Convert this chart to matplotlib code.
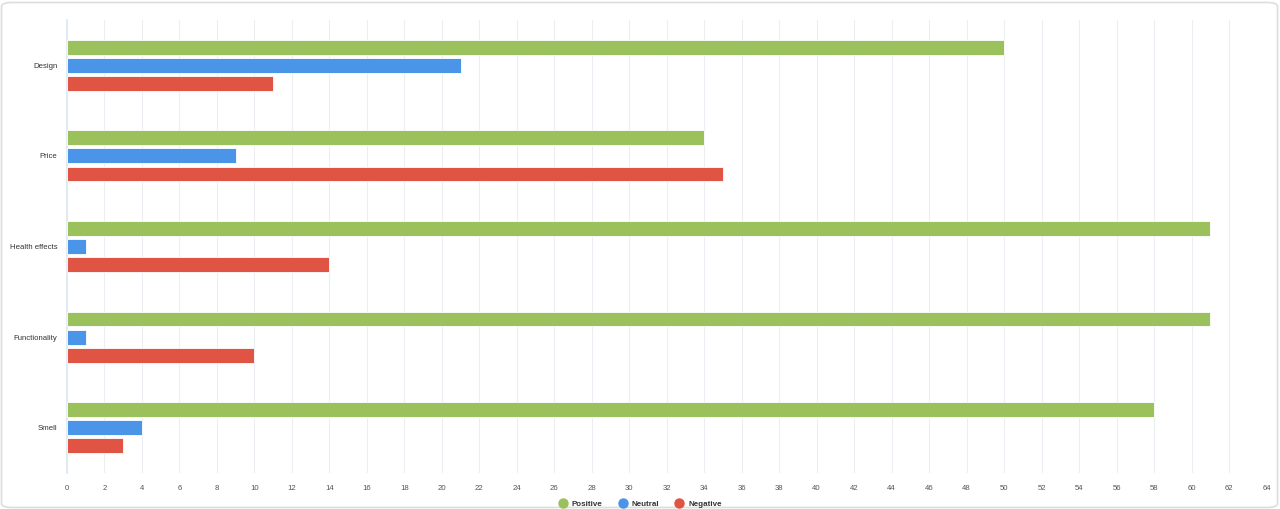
import numpy as np
import matplotlib
matplotlib.use("Agg")
import matplotlib.pyplot as plt
from matplotlib.patches import FancyBboxPatch
from matplotlib.lines import Line2D

categories = ["Design", "Price", "Health effects", "Functionality", "Smell"]
positive = [50, 34, 61, 61, 58]
neutral = [21, 9, 1, 1, 4]
negative = [11, 35, 14, 10, 3]

series = [("Positive", positive, "#9bc15d"),
          ("Neutral", neutral, "#4a95e8"),
          ("Negative", negative, "#e05443")]

plt.rcParams['font.family'] = ['Liberation Sans', 'DejaVu Sans']

fig = plt.figure(figsize=(12.8, 5.09), dpi=100)
ax = fig.add_axes([67 / 1280, 36 / 509, 1199.5 / 1280, 453 / 509])

y = np.arange(len(categories))
bar_h = 0.165
step = 0.2
for i, (name, vals, color) in enumerate(series):
    ax.barh(y + (i - 1) * step, vals, height=bar_h, color=color,
            edgecolor="white", linewidth=0.6, zorder=3)

ax.set_ylim(len(categories) - 0.5, -0.5)
ax.set_xlim(0, 64)
ax.set_xticks(np.arange(0, 65, 2))
ax.set_yticks(y)
ax.set_yticklabels(categories)
ax.tick_params(axis="x", length=0, pad=9, labelsize=5.6, labelcolor="#555555")
ax.tick_params(axis="y", length=0, pad=7, labelsize=5.6, labelcolor="#333333")
ax.grid(axis="x", color="#ebeef2", linewidth=0.8, zorder=0)
for s in ["top", "right", "bottom"]:
    ax.spines[s].set_visible(False)
ax.spines["left"].set_color("#dfe6ef")
ax.spines["left"].set_linewidth(1.2)

handles = [Line2D([0], [0], marker="o", linestyle="", markersize=6.5,
                  markerfacecolor=c, markeredgecolor=c, label=n)
           for n, _, c in series]
leg = fig.legend(handles=handles, loc="center", bbox_to_anchor=(0.5, 5 / 509),
                 ncol=3, frameon=False, handletextpad=0.5, handlelength=1.2,
                 columnspacing=1.9, prop={"weight": "bold", "size": 5.8})
for t in leg.get_texts():
    t.set_color("#333333")

border = FancyBboxPatch((1.5 / 1280, 1.5 / 509), 1276 / 1280, 505 / 509,
                        boxstyle="round,pad=0,rounding_size=0.008",
                        transform=fig.transFigure, facecolor="none",
                        edgecolor="#dddddd", linewidth=1.2)
fig.patches.append(border)

fig.savefig("out.png", dpi=100)
